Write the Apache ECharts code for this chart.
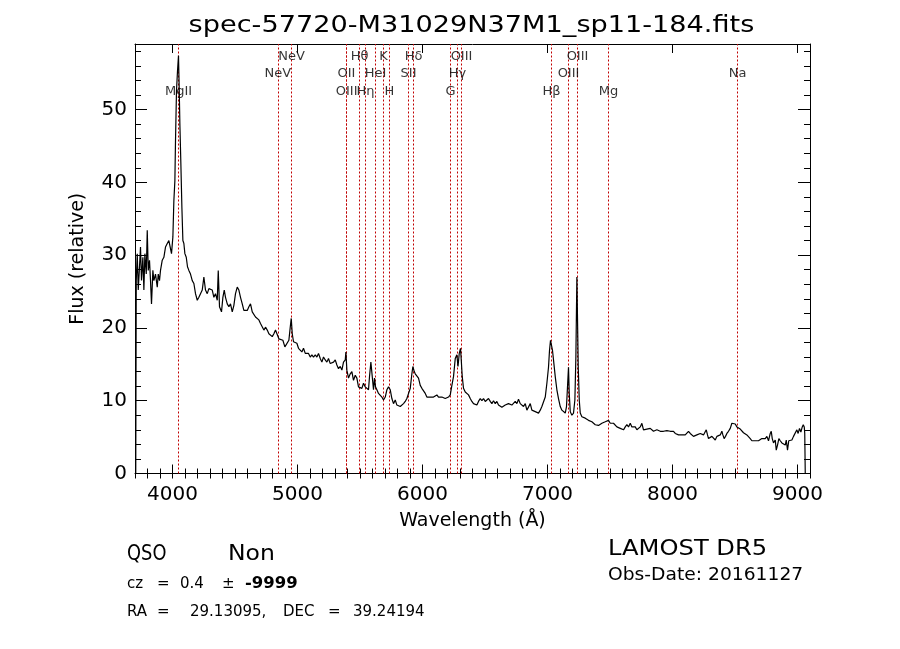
<!DOCTYPE html>
<html>
<head>
<meta charset="utf-8">
<script src="https://cdn.jsdelivr.net/npm/echarts@6.0.0/dist/echarts.min.js"></script>
<style>
html,body{margin:0;padding:0;background:#fff;}
#chart{width:900px;height:649px;}
</style>
</head>
<body>
<div id="chart"></div>
<script>
// ---- data ----
const wavelength = [
3706,3710,3718,3726,3736,3744,3752,3763,3771,3779,3790,3798,3806,3816,3824,3832,3843,3851,3864,3878,3886,3896,3904,3918,3931,3944,3958,3971,3984,3992,
4003,4011,4019,4024,4032,4040,4048,4054,4059,4067,4075,4083,4091,4099,4110,4120,4131,4144,4158,4171,4184,4198,4211,4224,4238,4251,4264,4278,4291,4304,
4318,4331,4344,4358,4366,4376,4392,4403,4414,4424,4438,4451,4464,4478,4491,4504,4518,4531,4544,4558,4571,4584,4598,4611,4624,4638,4651,4664,4678,4691,
4704,4718,4731,4744,4758,4771,4784,4798,4811,4824,4838,4851,
4862,4883,4899,4915,4931,4942,4950,4958,4968,4982,4995,5008,5022,5035,5048,5062,5075,5088,5102,5115,5128,5142,5155,5168,5182,5195,5208,5222,5235,5248,
5262,5275,5288,5302,5315,5328,5342,5355,5368,5382,5387,5395,5408,5422,5435,5448,5462,5475,5488,5502,5515,5528,5542,5555,5568,5576,5587,5598,5608,5616,
5624,5635,5648,5662,5675,5688,5702,5715,5728,5742,5755,5768,5782,5795,5808,5822,5835,5848,5862,5875,5888,5902,5915,5923,5934,5942,5955,5968,5982,5995,
6008,6022,6035,6048,6062,6075,6088,6102,6115,6128,6142,6155,6168,6182,6195,6208,6222,6235,6248,6262,6275,6284,6294,6304,6310,6318,6328,6342,6355,6368,6382,
6395,6408,6422,6435,6448,6462,6475,6488,6502,6515,6528,6542,6555,6568,6582,6595,6608,6622,6635,6648,6662,6675,6688,6702,6715,6728,6742,6755,6768,6782,
6795,6808,6822,6835,6848,6862,6875,6888,6902,6915,6928,6942,6955,6968,6982,6995,7008,7016,7024,7032,7040,7048,7062,7075,7088,7102,7115,7128,7142,7152,
7160,7168,7174,7182,7195,7208,7219,7227,7235,7240,7246,7254,7262,7275,7288,7302,7315,7328,7342,7355,7368,7382,7395,7408,7422,
7435,7448,7462,7475,7488,7502,7515,7528,7542,7555,7568,7582,7595,7608,7622,7635,7648,7662,7675,7688,7702,7715,7728,7742,7755,7768,7782,7795,7808,7822,
7835,7848,7862,7875,7888,7902,7915,7928,7942,7955,7968,7982,7995,8008,8022,8035,8048,8062,8075,8088,8102,8115,8128,8142,8155,8168,8182,8195,8208,8222,
8235,8248,8262,8270,8280,8288,8302,8315,8328,8342,8355,8368,8382,8395,8403,8413,8424,8435,8448,8462,8475,8488,8502,8515,8528,8542,8555,8568,8582,8595,
8608,8622,8635,8648,8662,8675,8688,8702,8715,8728,8742,8755,8768,8782,8790,8798,8808,8822,8830,8840,8851,8862,8875,8888,8902,8910,8920,8930,8942,8955,
8968,8982,8995,9005,9016,9027,9038,9046,9054,9058,9062
];
const flux = [
0,26.5,30.2,25.2,28.4,31.1,26.5,29.7,25.2,30.2,27.4,33.4,27.9,29.3,26.5,23.3,27.9,26.5,27.4,25.6,27.4,26.5,27.9,29.3,29.7,31.1,31.6,32.0,32.2,30.2,
32.5,37.5,40.2,45.7,52.6,55.3,57.4,52.6,48.0,42.5,36.6,32.0,31.6,30.2,29.7,28.4,27.9,27.4,26.5,26.1,24.7,23.8,24.2,24.7,25.2,27.0,25.2,24.7,25.4,25.6,
25.2,24.2,24.7,23.8,27.9,22.9,22.2,24.2,25.2,24.2,23.3,22.9,23.3,22.2,23.1,24.7,25.6,25.2,24.2,23.3,22.4,22.2,22.4,22.9,23.3,22.2,22.0,21.5,21.3,21.1,
20.6,20.4,19.7,20.1,19.7,19.2,19.0,18.8,19.2,19.7,19.9,18.5,
18.3,18.3,17.4,17.6,18.3,20.1,21.3,19.2,18.1,18.3,17.9,17.2,17.4,16.7,17.2,16.5,16.7,16.5,16.0,16.3,16.0,16.3,16.0,16.5,15.8,15.3,16.0,15.6,15.3,15.8,
15.1,15.3,15.3,15.6,14.9,14.4,14.7,14.2,15.3,15.6,16.7,14.2,13.1,13.7,14.0,12.8,13.5,13.1,11.9,12.1,11.7,12.4,11.9,12.1,11.5,13.3,15.3,13.3,11.5,13.1,
11.9,11.5,11.0,10.8,10.5,10.1,10.5,11.5,11.9,11.5,10.3,9.6,10.1,9.4,9.6,9.2,9.0,9.6,9.9,10.3,10.5,11.7,13.7,14.7,14.0,13.7,13.5,13.1,12.1,11.7,
11.5,11.0,10.5,10.3,10.5,10.3,10.5,10.5,10.8,10.5,10.3,10.5,10.5,10.3,10.5,10.5,10.8,12.1,13.3,15.8,16.3,14.7,16.5,17.2,15.6,13.3,11.7,11.2,11.0,10.8,10.3,
9.9,9.6,9.5,9.4,9.9,10.3,10.0,10.3,9.9,10.0,10.3,9.9,9.6,10.0,9.6,9.9,9.4,9.2,9.1,9.2,9.4,9.2,9.6,9.7,9.4,9.6,9.9,9.6,10.2,9.6,
9.4,9.2,9.6,8.7,8.9,9.6,8.7,8.6,8.5,8.6,8.3,8.7,9.2,9.4,10.5,12.4,14.6,16.9,18.3,18.5,16.9,15.6,13.3,11.5,10.3,9.2,8.7,8.5,8.3,9.2,
11.9,14.6,11.0,8.5,8.0,8.3,10.1,16.0,27.0,27.0,14.6,10.1,8.3,7.8,8.0,7.6,7.8,7.3,7.4,7.1,6.9,6.7,6.9,6.6,6.7,
6.9,7.0,7.1,7.1,7.3,6.9,7.1,6.9,6.7,6.4,6.5,6.2,6.4,6.0,6.4,6.7,6.4,6.9,6.4,6.2,6.4,6.0,6.2,6.4,6.9,6.0,6.2,6.1,5.9,6.2,
6.1,5.8,6.0,6.0,5.9,5.8,5.9,5.8,5.8,5.9,5.8,5.8,5.8,5.8,5.5,5.4,5.3,5.1,5.3,5.4,5.3,5.5,5.8,5.5,5.3,5.1,5.2,5.3,5.4,5.5,
5.3,5.3,5.5,6.0,5.3,4.8,4.7,5.1,5.2,4.6,5.1,5.1,5.3,5.8,5.3,4.8,5.1,5.5,5.8,6.2,6.9,7.0,6.8,6.4,6.3,6.1,6.0,5.6,5.5,5.3,
5.5,4.8,4.5,4.7,4.5,4.7,4.5,4.7,4.8,4.7,4.8,5.1,4.5,5.5,5.8,4.8,4.2,4.6,3.2,3.9,4.8,4.5,4.2,4.4,3.9,4.6,3.2,4.5,4.4,4.6,
5.1,5.3,6.0,5.5,6.2,5.7,6.4,6.7,6.4,5.5,0
];

// spectral line identifications: name, wavelength, label row (1 = top)
const lineNames = ['MgII','NeV','NeV','OII','OIII','Hθ','Hη','HeI','K','H','SII','Hδ','G','Hγ','OIII','Hβ','OIII','OIII','Mg','Na'];
const lineWaves = [4048,4843,4952,5392,5393,5496,5544,5624,5688,5736,5888,5928,6224,6280,6312,7032,7168,7240,7488,8520];
const lineRows  = [3,2,1,2,3,1,3,2,1,3,2,1,3,2,1,3,2,1,3,2];

const xTickValues = [4000,5000,6000,7000,8000,9000];
const xMin = 3700, xMax = 9100, yMin = 0, yMax = 59;

const titleText = 'spec-57720-M31029N37M1_sp11-184.fits';
const xName = 'Wavelength (Å)';
const yName = 'Flux (relative)';

// ---- chart ----
const FONT = 'DejaVu Sans';
const rowY = {1: 57.3, 2: 54.9, 3: 52.5};
const chart = echarts.init(document.getElementById('chart'), null, {renderer: 'canvas'});

const black = '#000';
function mkX(opts) {
  return Object.assign({
    type: 'value', min: xMin, max: xMax, gridIndex: 0,
    axisLine: {show: true, onZero: false, lineStyle: {color: black, width: 1}},
    axisTick: {show: true, inside: true, length: 9, lineStyle: {color: black, width: 1}},
    axisLabel: {show: false},
    splitLine: {show: false}
  }, opts);
}
function mkY(opts) {
  return Object.assign({
    type: 'value', min: yMin, max: yMax, gridIndex: 0,
    axisLine: {show: true, onZero: false, lineStyle: {color: black, width: 1}},
    axisTick: {show: true, inside: true, length: 12, lineStyle: {color: black, width: 1}},
    axisLabel: {show: false},
    splitLine: {show: false}
  }, opts);
}

const specData = wavelength.map((w, i) => [w, flux[i]]);
const labelData = lineNames.map((n, i) => ({name: n, value: [lineWaves[i], rowY[lineRows[i]]]}));

const option = {
  animation: false,
  backgroundColor: '#fff',
  grid: {left: 135, right: 90, top: 44, bottom: 175.5, containLabel: false},
  xAxis: [
    mkX({position: 'bottom',
      axisTick: {show: true, inside: true, length: 9, customValues: xTickValues, lineStyle: {color: black}},
      axisLabel: {show: true, customValues: xTickValues, formatter: v => String(v), color: black, fontFamily: FONT, fontSize: 20, margin: 11},
      name: xName, nameLocation: 'middle', nameGap: 38,
      nameTextStyle: {color: black, fontFamily: FONT, fontSize: 19}
    }),
    mkX({position: 'bottom', interval: 100, axisLine: {show: false},
      axisTick: {show: true, inside: true, length: 5, lineStyle: {color: black}}}),
    mkX({position: 'top',
      axisTick: {show: true, inside: true, length: 9, customValues: xTickValues, lineStyle: {color: black}}}),
    mkX({position: 'top', interval: 100, axisLine: {show: false},
      axisTick: {show: true, inside: true, length: 5, lineStyle: {color: black}}})
  ],
  yAxis: [
    mkY({position: 'left', interval: 10,
      axisLabel: {show: true, formatter: v => String(v), color: black, fontFamily: FONT, fontSize: 20, margin: 8, showMaxLabel: false},
      name: yName, nameLocation: 'middle', nameGap: 47,
      nameTextStyle: {color: black, fontFamily: FONT, fontSize: 19}
    }),
    mkY({position: 'left', interval: 2, axisLine: {show: false},
      axisTick: {show: true, inside: true, length: 6, lineStyle: {color: black}}}),
    mkY({position: 'right', interval: 10}),
    mkY({position: 'right', interval: 2, axisLine: {show: false},
      axisTick: {show: true, inside: true, length: 6, lineStyle: {color: black}}})
  ],
  series: [
    {
      type: 'line', xAxisIndex: 0, yAxisIndex: 0,
      data: specData, symbol: 'none', silent: true,
      lineStyle: {color: black, width: 1.2},
      z: 3,
      markLine: {
        silent: true, symbol: ['none', 'none'],
        label: {show: false},
        lineStyle: {color: '#c00000', type: [2, 2], width: 1},
        data: lineWaves.map(w => ({xAxis: w})),
        z: 2
      }
    },
    {
      type: 'scatter', xAxisIndex: 0, yAxisIndex: 0,
      data: labelData, symbolSize: 0, silent: true, z: 4,
      label: {show: true, position: 'inside', formatter: p => p.name,
        color: '#000', textBorderWidth: 0, fontFamily: FONT, fontSize: 13}
    }
  ],
  graphic: [
    {type: 'text', x: 471.5, y: 26.5, scaleX: 1.18, style: {text: titleText, fill: black, font: '23px "DejaVu Sans"', align: 'center', verticalAlign: 'middle'}},
    {type: 'text', x: 127, y: 554.5, scaleX: 0.85, style: {text: 'QSO', fill: black, font: '21px "DejaVu Sans"', align: 'left', verticalAlign: 'middle'}},
    {type: 'text', x: 228, y: 554.5, scaleX: 1.12, style: {text: 'Non', fill: black, font: '21px "DejaVu Sans"', align: 'left', verticalAlign: 'middle'}},
    {type: 'text', x: 127, y: 584, style: {text: 'cz', fill: black, font: '15px "DejaVu Sans"', align: 'left', verticalAlign: 'middle'}},
    {type: 'text', x: 157, y: 584, style: {text: '=', fill: black, font: '15px "DejaVu Sans"', align: 'left', verticalAlign: 'middle'}},
    {type: 'text', x: 180, y: 584, style: {text: '0.4', fill: black, font: '15px "DejaVu Sans"', align: 'left', verticalAlign: 'middle'}},
    {type: 'text', x: 222, y: 584, style: {text: '±', fill: black, font: '15px "DejaVu Sans"', align: 'left', verticalAlign: 'middle'}},
    {type: 'text', x: 245, y: 584, scaleX: 1.1, style: {text: '-9999', fill: black, font: 'bold 15px "DejaVu Sans"', align: 'left', verticalAlign: 'middle'}},
    {type: 'text', x: 127, y: 612, style: {text: 'RA', fill: black, font: '15px "DejaVu Sans"', align: 'left', verticalAlign: 'middle'}},
    {type: 'text', x: 157, y: 612, style: {text: '=', fill: black, font: '15px "DejaVu Sans"', align: 'left', verticalAlign: 'middle'}},
    {type: 'text', x: 190, y: 612, style: {text: '29.13095,', fill: black, font: '15px "DejaVu Sans"', align: 'left', verticalAlign: 'middle'}},
    {type: 'text', x: 283, y: 612, style: {text: 'DEC', fill: black, font: '15px "DejaVu Sans"', align: 'left', verticalAlign: 'middle'}},
    {type: 'text', x: 328, y: 612, style: {text: '=', fill: black, font: '15px "DejaVu Sans"', align: 'left', verticalAlign: 'middle'}},
    {type: 'text', x: 353, y: 612, style: {text: '39.24194', fill: black, font: '15px "DejaVu Sans"', align: 'left', verticalAlign: 'middle'}},
    {type: 'text', x: 608, y: 549.5, scaleX: 1.1, style: {text: 'LAMOST DR5', fill: black, font: '22px "DejaVu Sans"', align: 'left', verticalAlign: 'middle'}},
    {type: 'text', x: 608, y: 576, scaleX: 1.1, style: {text: 'Obs-Date: 20161127', fill: black, font: '17px "DejaVu Sans"', align: 'left', verticalAlign: 'middle'}}
  ]
};
chart.setOption(option);
</script>
</body>
</html>
